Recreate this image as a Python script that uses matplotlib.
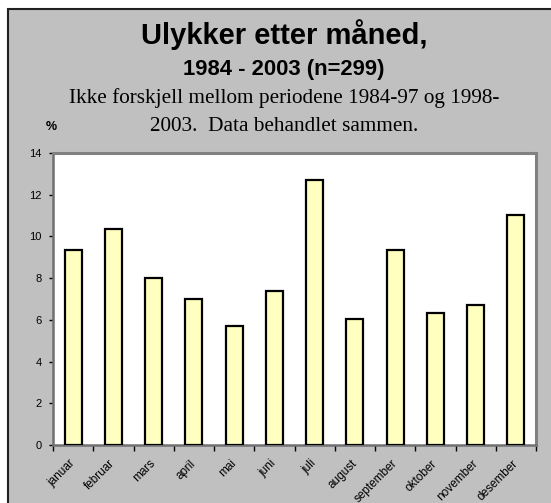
import matplotlib
matplotlib.use("Agg")
import matplotlib.pyplot as plt
from matplotlib.patches import Rectangle
import numpy as np

months = ["januar", "februar", "mars", "april", "mai", "juni", "juli",
          "august", "september", "oktober", "november", "desember"]
percent = [9.36, 10.37, 8.03, 7.02, 5.69, 7.36, 12.71, 6.02, 9.36, 6.35, 6.69, 11.04]
yticks = [0, 2, 4, 6, 8, 10, 12, 14]

W, H = 551, 503
fig = plt.figure(figsize=(W / 100, H / 100), dpi=100, facecolor="white")

def fx(px):
    return px / W

def fy(py):
    return 1 - py / H

# outer gray panel with black frame (top/left visible)
fig.patches.append(Rectangle((fx(7.5), -0.1), 1.2, fy(9) + 0.1, transform=fig.transFigure,
                             facecolor="#C0C0C0", edgecolor="#202020", linewidth=1.5,
                             zorder=-5))

ax = fig.add_axes([fx(53), fy(445), fx(536) - fx(53), fy(153) - fy(445)])
ax.set_zorder(2)
ax.set_facecolor("white")
x = np.arange(len(months))
ax.bar(x, percent, width=0.42, color="#FFFFC0", edgecolor="black", linewidth=1.6, zorder=3)
ax.set_xlim(-0.5, len(months) - 0.5)
ax.set_ylim(0, 14)
ax.set_yticks(yticks)
ax.set_yticklabels([str(v) for v in yticks], fontsize=8, family="Liberation Sans")
ax.set_xticks(np.arange(-0.5, len(months), 1.0))
ax.set_xticklabels([])
ax.set_xticks(x, minor=True)
ax.set_xticklabels(months, minor=True, rotation=45, ha="right", va="center",
                   rotation_mode="anchor", fontsize=8.5, family="Liberation Sans")
ax.tick_params(axis="x", which="minor", length=0, pad=12)
ax.tick_params(axis="x", which="major", length=4, width=1, color="black", direction="out")
ax.tick_params(axis="y", length=3, width=1, color="black", direction="out", pad=5)
for s in ["top", "right"]:
    ax.spines[s].set_color("#808080")
    ax.spines[s].set_linewidth(2.2)
for s in ["left", "bottom"]:
    ax.spines[s].set_color("#707070")
    ax.spines[s].set_linewidth(1.8)

cx = fx(284)
fig.text(cx, fy(44.3), "Ulykker etter måned,", ha="center", va="baseline",
         fontsize=21, fontweight="bold", family="Liberation Sans")
fig.text(cx, fy(75), "1984 - 2003 (n=299)", ha="center", va="baseline",
         fontsize=15.8, fontweight="bold", family="Liberation Sans")
fig.text(cx, fy(103.3), "Ikke forskjell mellom periodene 1984-97 og 1998-", ha="center",
         va="baseline", fontsize=15.3, family="Liberation Serif")
fig.text(cx, fy(130.7), "2003.  Data behandlet sammen.", ha="center",
         va="baseline", fontsize=15.3, family="Liberation Serif")
fig.text(fx(51), fy(129.5), "%", ha="center", va="baseline", fontsize=9,
         fontweight="bold", family="Liberation Sans")

fig.savefig("out.png", dpi=100, facecolor="white")
